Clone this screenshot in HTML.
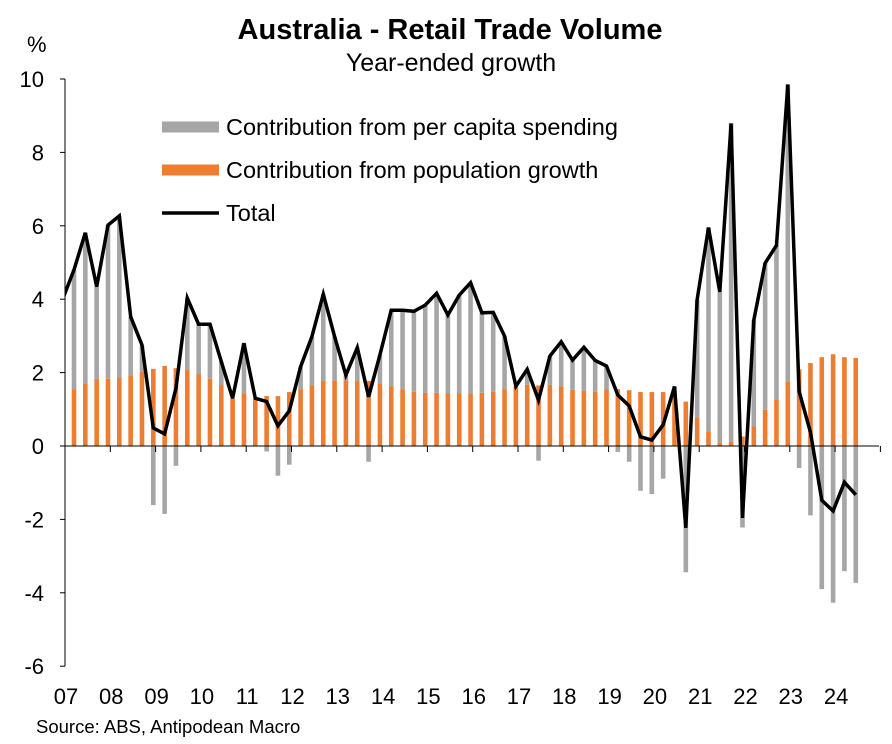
<!DOCTYPE html>
<html><head><meta charset="utf-8">
<style>
body{margin:0;background:#fff;}
svg{display:block;font-family:"Liberation Sans",Arial,sans-serif;}
</style></head>
<body>
<svg id="chart" width="892" height="744" viewBox="0 0 892 744">
<text x="450" y="39" text-anchor="middle" font-size="29" font-weight="bold">Australia - Retail Trade Volume</text>
<text x="451" y="71" text-anchor="middle" font-size="25">Year-ended growth</text>
<text x="27" y="52" font-size="22">%</text>
<text x="36" y="733" font-size="18.5">Source: ABS, Antipodean Macro</text>
<g id="legend">
 <line x1="162" y1="127" x2="219" y2="127" stroke="#a6a6a6" stroke-width="11"/>
 <text x="226" y="135" font-size="23.5">Contribution from per capita spending</text>
 <line x1="162" y1="170" x2="219" y2="170" stroke="#ed7d31" stroke-width="11"/>
 <text x="226" y="178" font-size="23.5">Contribution from population growth</text>
 <line x1="162" y1="213" x2="219" y2="213" stroke="#000" stroke-width="3.5"/>
 <text x="226" y="221" font-size="23.5">Total</text>
</g>
<g id="plot"></g>
</svg>
<script>
const years = ["07","08","09","10","11","12","13","14","15","16","17","18","19","20","21","22","23","24"];
const yTicks = [10,8,6,4,2,0,-2,-4,-6];
const startTotal = 4.0; // 2006 Q4
const total = [4.8,5.81,4.34,6.02,6.27,3.52,2.75,0.49,0.33,1.58,4.03,3.32,3.32,2.3,1.3,2.8,1.3,1.21,0.55,0.96,2.16,2.98,4.14,2.98,1.93,2.68,
1.34,2.48,3.7,3.7,3.67,3.84,4.16,3.57,4.11,4.45,3.63,3.64,3.0,1.63,2.09,1.25,2.45,2.84,2.34,2.69,2.33,2.18,1.39,1.09,0.25,
0.16,0.58,1.62,-2.23,3.98,5.95,4.2,8.79,-1.96,3.43,4.98,5.47,9.85,1.49,0.37,-1.48,-1.77,-0.99,-1.33];
const population = [1.55,1.69,1.83,1.83,1.87,1.93,2.02,2.1,2.18,2.12,2.07,1.96,1.83,1.66,1.28,1.44,1.25,1.36,1.36,1.47,1.55,1.65,1.77,1.79,1.79,1.77,
1.77,1.69,1.62,1.55,1.48,1.45,1.45,1.43,1.43,1.43,1.45,1.48,1.55,1.62,1.67,1.65,1.66,1.62,1.53,1.5,1.48,1.54,1.55,1.52,1.47,
1.47,1.47,1.48,1.21,0.78,0.40,0.08,0.12,0.26,0.53,0.99,1.27,1.76,2.09,2.26,2.42,2.5,2.42,2.4];

const NS="http://www.w3.org/2000/svg";
const plot=document.getElementById('plot');
const L=65,R=879,Y0=446,U=36.7;
const yS=v=>Y0-v*U;
const xQ=i=>74+i*11.33;
const xYear=k=>65+k*45.3;
function mk(t,a){const e=document.createElementNS(NS,t);for(const k in a)e.setAttribute(k,a[k]);return e;}

const defs=mk('defs',{});const cp=mk('clipPath',{id:'pc'});cp.appendChild(mk('rect',{x:L,y:60,width:R-L,height:620}));defs.appendChild(cp);plot.appendChild(defs);

for(let i=0;i<total.length;i++){
  const p=population[i],t=total[i],pc=t-p,x=xQ(i)-2.3;
  const ob=mk('rect',{x:x,y:Math.min(yS(p),Y0),width:4.6,height:Math.abs(p*U),fill:'#ed7d31'});
  
  
  plot.appendChild(ob);
  let y1,y2;
  if(pc>=0){y1=yS(p+pc);y2=yS(p);}else{y1=Y0;y2=yS(pc);}
  const gb=mk('rect',{x:x,y:y1,width:4.6,height:Math.max(0,y2-y1),fill:'#a6a6a6'});
  
  
  plot.appendChild(gb);
}
const ya=mk('line',{x1:L,y1:yS(10),x2:L,y2:yS(-6),stroke:'#000','stroke-width':1});


plot.appendChild(ya);
yTicks.forEach(v=>{
  const tk=mk('line',{x1:L-5,y1:yS(v),x2:L,y2:yS(v),stroke:'#000'});
  
  
  plot.appendChild(tk);
  const tx=mk('text',{x:L-21,y:yS(v)+8,'text-anchor':'end','font-size':22});
  tx.textContent=v;
  
  
  plot.appendChild(tx);
});
const xa=mk('line',{x1:L,y1:Y0,x2:R,y2:Y0,stroke:'#000','stroke-width':1});


plot.appendChild(xa);
for(let k=0;k<=years.length;k++){
  const tk=mk('line',{x1:xYear(k),y1:Y0,x2:xYear(k),y2:Y0+6,stroke:'#000'});
  
  
  plot.appendChild(tk);
}
years.forEach((y,k)=>{
  const tx=mk('text',{x:xYear(k)+1,y:704,'text-anchor':'middle','font-size':22});
  tx.textContent=y;
  
  
  plot.appendChild(tx);
});
let d='M'+xQ(-1)+','+yS(startTotal);
total.forEach((v,i)=>{d+=' L'+xQ(i).toFixed(1)+','+yS(v).toFixed(1);});
const ln=mk('path',{d:d,fill:'none',stroke:'#000','stroke-width':3.5,'stroke-linejoin':'miter','clip-path':'url(#pc)'});


plot.appendChild(ln);
</script>
</body></html>
